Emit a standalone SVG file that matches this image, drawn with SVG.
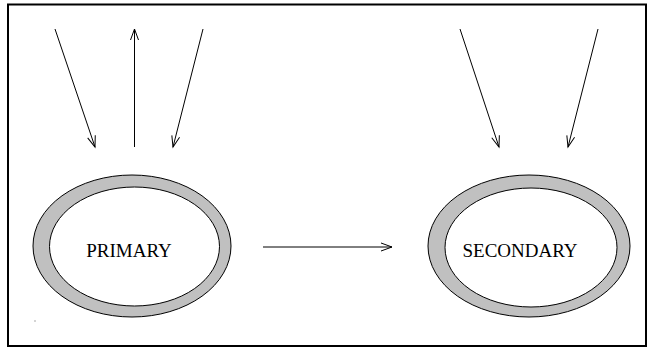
<svg xmlns="http://www.w3.org/2000/svg" width="648" height="349" viewBox="0 0 648 349">
<defs>
<style>
.frame{fill:none;stroke:#000;stroke-width:2}
.ring{fill:#c0c0c0;stroke:#000;stroke-width:1}
.hole{fill:#fff;stroke:#000;stroke-width:1}
.lbl{font-family:"Liberation Serif","Times New Roman",serif;font-size:19px;fill:#000;text-anchor:middle}
.conn{stroke:#000;stroke-width:1;fill:none;marker-end:url(#arr)}
</style>
<marker id="arr" viewBox="-12 -6 14 12" refX="0" refY="0" markerWidth="14" markerHeight="12" markerUnits="userSpaceOnUse" orient="auto">
<path d="M-11,-4 L0,0 L-11,4" fill="none" stroke="#000" stroke-width="1"/>
</marker>
</defs>
<rect width="648" height="349" fill="#fff"/>
<rect class="frame" x="8" y="4.5" width="638" height="341.5"/>
<g id="primary">
<ellipse class="ring" cx="132" cy="246" rx="99" ry="71"/>
<ellipse class="hole" cx="134.5" cy="246.5" rx="85" ry="59.5"/>
<text class="lbl" x="129" y="257">PRIMARY</text>
</g>
<g id="secondary">
<ellipse class="ring" cx="529" cy="246" rx="101" ry="71"/>
<ellipse class="hole" cx="531" cy="247.5" rx="86" ry="59.5"/>
<text class="lbl" x="520" y="257">SECONDARY</text>
</g>
<g id="connectors">
<line class="conn" x1="55" y1="29" x2="95" y2="147"/>
<line class="conn" x1="134.5" y1="147" x2="134.5" y2="29"/>
<line class="conn" x1="203" y1="29" x2="173" y2="147"/>
<line class="conn" x1="460" y1="29" x2="499" y2="147"/>
<line class="conn" x1="598" y1="29" x2="568" y2="147"/>
<line class="conn" x1="263" y1="247" x2="392" y2="247"/>
</g>
<rect x="34.5" y="320.5" width="1" height="1" fill="#555"/>
</svg>
